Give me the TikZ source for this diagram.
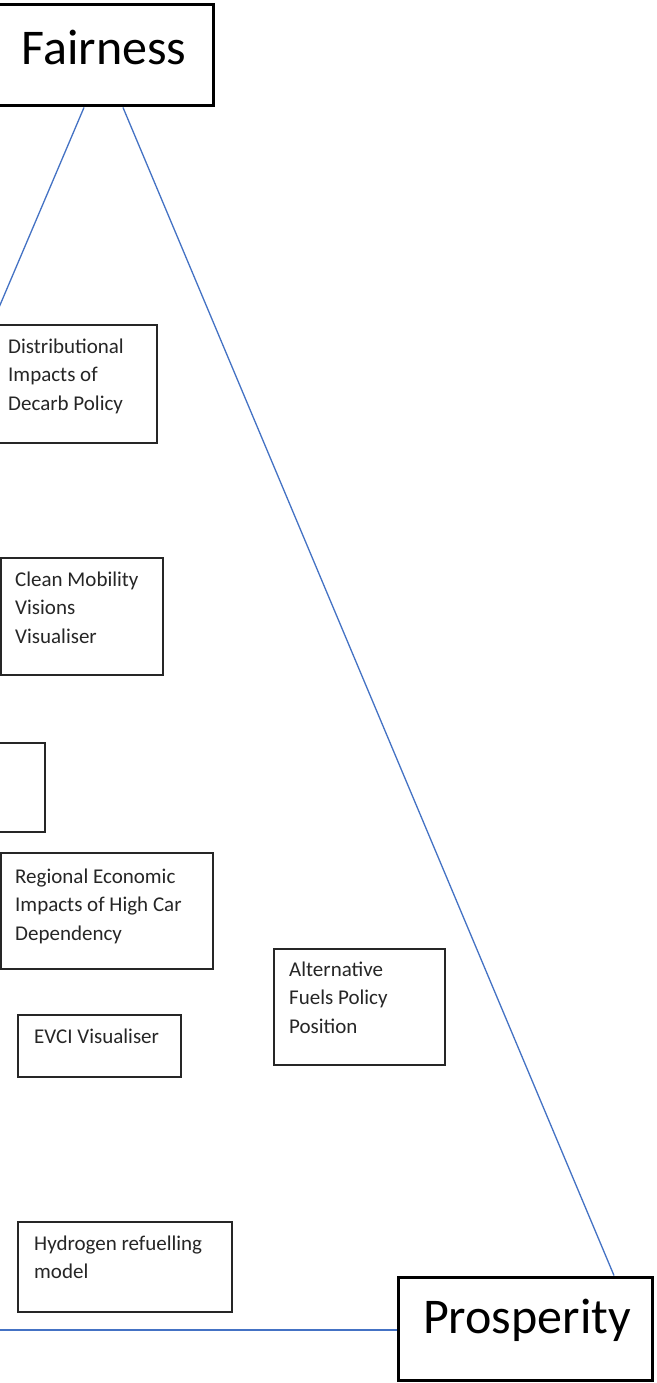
\documentclass[tikz,border=0pt]{standalone}
\usepackage{fontspec}
\setmainfont{Carlito}
\definecolor{lineblue}{HTML}{4472C4}
\begin{document}
\begin{tikzpicture}[x=1pt,y=-1pt,
  bigbox/.style={draw=black, line width=3pt, inner sep=0pt},
  smallbox/.style={draw=black!85, line width=1.4pt, inner sep=0pt},
  bigtext/.style={inner sep=0pt, font=\fontsize{50}{60}\selectfont},
  smalltext/.style={inner sep=0pt, anchor=base west, font=\fontsize{21}{28.5}\selectfont, text=black!85},
  link/.style={draw=lineblue, line width=1.3pt}]
\useasboundingbox (0,0) rectangle (656,1383);
\fill[white] (0,0) rectangle (656,1383);
% main boxes
\node[bigbox, minimum width=218pt, minimum height=101pt] (fair) at (104,55.5) {};
\node[bigtext, anchor=base] (fairt) at (104,65) {Fairness};
\node[bigbox, minimum width=254pt, minimum height=103pt] (pros) at (525,1328.5) {};
\node[bigtext, anchor=base] (prost) at (527,1333) {Prosperity};
% connectors
\coordinate (leftend) at (-10,328.6);
\coordinate (bottomleft) at (-10,1330);
\draw[link] ([xshift=-20pt]fair.south) -- (leftend);
\draw[link] ([xshift=19pt]fair.south) -- ([xshift=89pt]pros.north);
\draw[link] (bottomleft) -- (pros.west |- bottomleft);
% small boxes
\node[smallbox, minimum width=177pt, minimum height=118pt] (dist) at (68.5,384) {};
\node[smalltext] (distt) at (8,353) {\begin{tabular}[t]{@{}l@{}}Distributional\\Impacts of\\Decarb Policy\end{tabular}};
\node[smallbox, minimum width=162pt, minimum height=117pt] (clean) at (82,616.5) {};
\node[smalltext] (cleant) at (15,586) {\begin{tabular}[t]{@{}l@{}}Clean Mobility\\Visions\\Visualiser\end{tabular}};
\node[smallbox, minimum width=65pt, minimum height=89pt] (blank) at (12.5,787.5) {};
\node[smallbox, minimum width=212pt, minimum height=116pt] (reg) at (107,911) {};
\node[smalltext] (regt) at (15,883) {\begin{tabular}[t]{@{}l@{}}Regional Economic\\Impacts of High Car\\Dependency\end{tabular}};
\node[smallbox, minimum width=163pt, minimum height=62pt] (evci) at (99.5,1046) {};
\node[smalltext] (evcit) at (34,1043) {EVCI Visualiser};
\node[smallbox, minimum width=171pt, minimum height=116pt] (alt) at (359.5,1007) {};
\node[smalltext] (altt) at (289,976) {\begin{tabular}[t]{@{}l@{}}Alternative\\Fuels Policy\\Position\end{tabular}};
\node[smallbox, minimum width=214pt, minimum height=90pt] (hyd) at (125,1267) {};
\node[smalltext] (hydt) at (34,1250) {\begin{tabular}[t]{@{}l@{}}Hydrogen refuelling\\model\end{tabular}};
\end{tikzpicture}
\end{document}
